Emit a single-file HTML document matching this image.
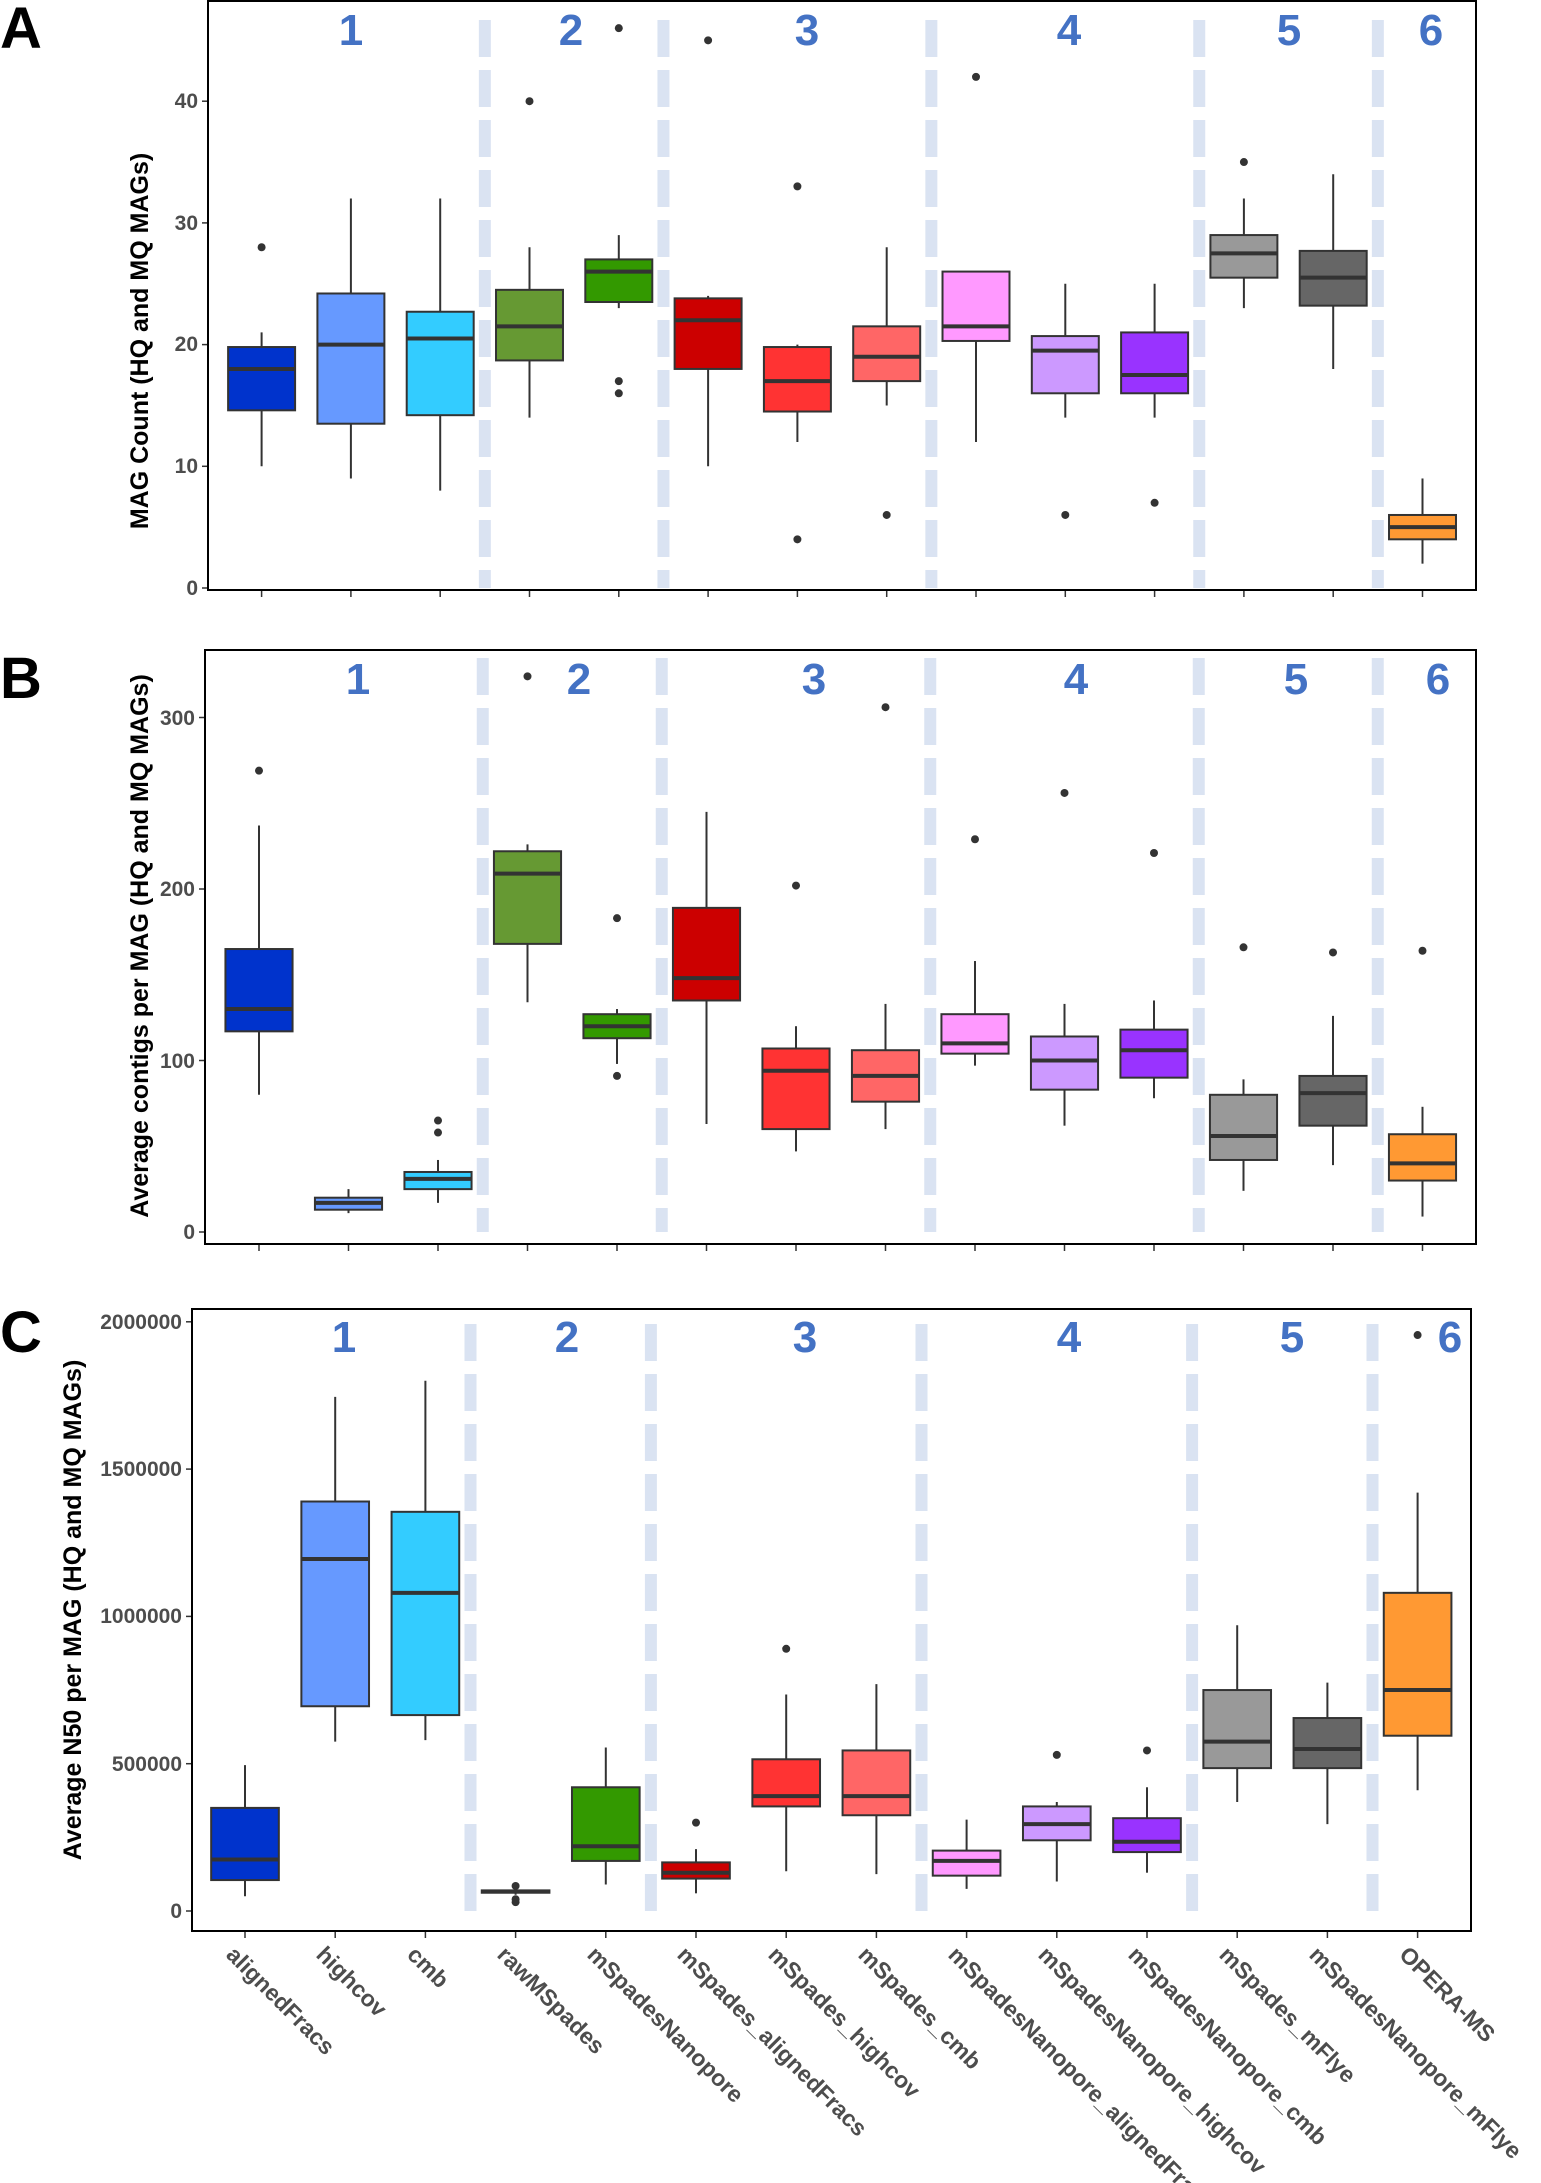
<!DOCTYPE html>
<html><head><meta charset="utf-8">
<style>
html,body{margin:0;padding:0;background:#fff;}
svg{display:block;}
.t{font-family:"Liberation Sans",sans-serif;font-weight:bold;fill:#4d4d4d;font-size:21px;}
.g{font-family:"Liberation Sans",sans-serif;font-weight:bold;fill:#4472c4;font-size:44px;}
.L{font-family:"Liberation Sans",sans-serif;font-weight:bold;fill:#000;font-size:58px;}
.yt{font-family:"Liberation Sans",sans-serif;font-weight:bold;fill:#000;font-size:25px;}
.xl{font-family:"Liberation Sans",sans-serif;font-weight:bold;fill:#4d4d4d;font-size:23px;}
</style></head><body>
<svg id="s" width="1541" height="2183" viewBox="0 0 1541 2183" xmlns="http://www.w3.org/2000/svg">
<rect width="1541" height="2183" fill="#fff"/>
<g id="shapes"></g>
<text class="L" x="0" y="48">A</text>
<text class="L" x="0" y="698">B</text>
<text class="L" x="0" y="1352">C</text>
<g class="g" text-anchor="middle">
<text x="351" y="45">1</text><text x="571" y="45">2</text><text x="807" y="45">3</text><text x="1069" y="45">4</text><text x="1289" y="45">5</text><text x="1431" y="45">6</text>
<text x="358" y="694">1</text><text x="579" y="694">2</text><text x="814" y="694">3</text><text x="1076" y="694">4</text><text x="1296" y="694">5</text><text x="1438" y="694">6</text>
<text x="344" y="1352">1</text><text x="567" y="1352">2</text><text x="805" y="1352">3</text><text x="1069" y="1352">4</text><text x="1292" y="1352">5</text><text x="1450" y="1352">6</text>
</g>
<g class="t" text-anchor="end">
<text x="198" y="595">0</text><text x="198" y="473">10</text><text x="198" y="351">20</text><text x="198" y="230">30</text><text x="198" y="108">40</text>
<text x="195" y="1239">0</text><text x="195" y="1068">100</text><text x="195" y="896">200</text><text x="195" y="725">300</text>
<text x="182" y="1918">0</text><text x="182" y="1771">500000</text><text x="182" y="1623">1000000</text><text x="182" y="1476">1500000</text><text x="182" y="1329">2000000</text>
</g>
<text class="yt" text-anchor="middle" transform="translate(148,341) rotate(-90)">MAG Count (HQ and MQ MAGs)</text>
<text class="yt" text-anchor="middle" transform="translate(148,946) rotate(-90)">Average contigs per MAG (HQ and MQ MAGs)</text>
<text class="yt" text-anchor="middle" transform="translate(81,1610) rotate(-90)">Average N50 per MAG (HQ and MQ MAGs)</text>
<g class="xl">
<text transform="translate(225,1956) rotate(45)">alignedFracs</text>
<text transform="translate(315,1956) rotate(45)">highcov</text>
<text transform="translate(406,1956) rotate(45)">cmb</text>
<text transform="translate(496,1956) rotate(45)">rawMSpades</text>
<text transform="translate(586,1956) rotate(45)">mSpadesNanopore</text>
<text transform="translate(676,1956) rotate(45)">mSpades_alignedFracs</text>
<text transform="translate(767,1956) rotate(45)">mSpades_highcov</text>
<text transform="translate(857,1956) rotate(45)">mSpades_cmb</text>
<text transform="translate(947,1956) rotate(45)">mSpadesNanopore_alignedFracs</text>
<text transform="translate(1037,1956) rotate(45)">mSpadesNanopore_highcov</text>
<text transform="translate(1127,1956) rotate(45)">mSpadesNanopore_cmb</text>
<text transform="translate(1218,1956) rotate(45)">mSpades_mFlye</text>
<text transform="translate(1308,1956) rotate(45)">mSpadesNanopore_mFlye</text>
<text transform="translate(1398,1956) rotate(45)">OPERA-MS</text>
</g>
</svg>
<script>
var cols=["#0033cc","#6699ff","#33ccff","#669933","#339900","#cc0000","#ff3333","#ff6666","#ff99ff","#cc99ff","#9933ff","#999999","#666666","#ff9933"];
var A=[[10,14.6,18,19.8,21,[28]],[9,13.5,20,24.2,32,[]],[8,14.2,20.5,22.7,32,[]],[14,18.7,21.5,24.5,28,[40]],[23,23.5,26,27,29,[46,17,16]],[10,18,22,23.8,24,[45]],[12,14.5,17,19.8,20,[33,4]],[15,17,19,21.5,28,[6]],[12,20.3,21.5,26,26,[42]],[14,16,19.5,20.7,25,[6]],[14,16,17.5,21,25,[7]],[23,25.5,27.5,29,32,[35]],[18,23.2,25.5,27.7,34,[]],[2,4,5,6,9,[]]];
var B=[[80,117,130,165,237,[269]],[11,13,17,20,25,[]],[17,25,31,35,42,[58,65]],[134,168,209,222,226,[324]],[98,113,120,127,130,[183,91]],[63,135,148,189,245,[]],[47,60,94,107,120,[202]],[60,76,91,106,133,[306]],[97,104,110,127,158,[229]],[62,83,100,114,133,[256]],[78,90,106,118,135,[221]],[24,42,56,80,89,[166]],[39,62,81,91,126,[163]],[9,30,40,57,73,[164]]];
var C=[[50,105,175,350,495,[]],[575,695,1195,1390,1745,[]],[580,665,1080,1355,1800,[]],[55,62,66,70,80,[30,40,85]],[90,170,220,420,555,[]],[60,110,130,165,210,[300]],[135,355,390,515,735,[890]],[125,325,390,545,770,[]],[75,120,170,205,310,[]],[100,240,295,355,370,[530]],[130,200,235,315,420,[545]],[370,485,575,750,970,[]],[295,485,550,655,775,[]],[410,595,750,1080,1420,[1955]]];
var panels=[
 {d:A,l:208,r:1476,t:1,b:590,c0:261.6,sp:89.3,y0:588,k:12.17,ds:20,de:588,ticks:[0,10,20,30,40]},
 {d:B,l:205,r:1476,t:650,b:1244,c0:259,sp:89.5,y0:1232,k:1.715,ds:658,de:1232,ticks:[0,100,200,300]},
 {d:C,l:192,r:1471,t:1309,b:1931,c0:245,sp:90.2,y0:1911,k:0.2946,ds:1324,de:1911,ticks:[0,500,1000,1500,2000]}
];
var h="";
panels.forEach(function(p){
 var Y=function(v){return p.y0-v*p.k;};
 var bw=p.sp*0.75;
 [3.5,5.5,8.5,11.5,13.5].forEach(function(s){
  var x=p.c0+p.sp*(s-1);
  h+='<line x1="'+x+'" x2="'+x+'" y1="'+p.ds+'" y2="'+p.de+'" stroke="#dae3f2" stroke-width="12" stroke-dasharray="37 13"/>';
 });
 p.d.forEach(function(s,i){
  var cx=p.c0+p.sp*i;
  h+='<line x1="'+cx+'" x2="'+cx+'" y1="'+Y(s[0])+'" y2="'+Y(s[4])+'" stroke="#333" stroke-width="2"/>';
  h+='<rect x="'+(cx-bw/2)+'" y="'+Y(s[3])+'" width="'+bw+'" height="'+(Y(s[1])-Y(s[3]))+'" fill="'+cols[i]+'" stroke="#333" stroke-width="2"/>';
  h+='<line x1="'+(cx-bw/2)+'" x2="'+(cx+bw/2)+'" y1="'+Y(s[2])+'" y2="'+Y(s[2])+'" stroke="#333" stroke-width="4"/>';
  s[5].forEach(function(o){h+='<circle cx="'+cx+'" cy="'+Y(o)+'" r="4" fill="#333"/>';});
  h+='<line x1="'+cx+'" x2="'+cx+'" y1="'+p.b+'" y2="'+(p.b+7)+'" stroke="#333" stroke-width="1.5"/>';
 });
 p.ticks.forEach(function(v){h+='<line x1="'+(p.l-6)+'" x2="'+p.l+'" y1="'+Y(v)+'" y2="'+Y(v)+'" stroke="#333" stroke-width="1.5"/>';});
 h+='<rect x="'+p.l+'" y="'+p.t+'" width="'+(p.r-p.l)+'" height="'+(p.b-p.t)+'" fill="none" stroke="#000" stroke-width="2"/>';
});
document.getElementById("shapes").innerHTML=h;
</script>
</body></html>
